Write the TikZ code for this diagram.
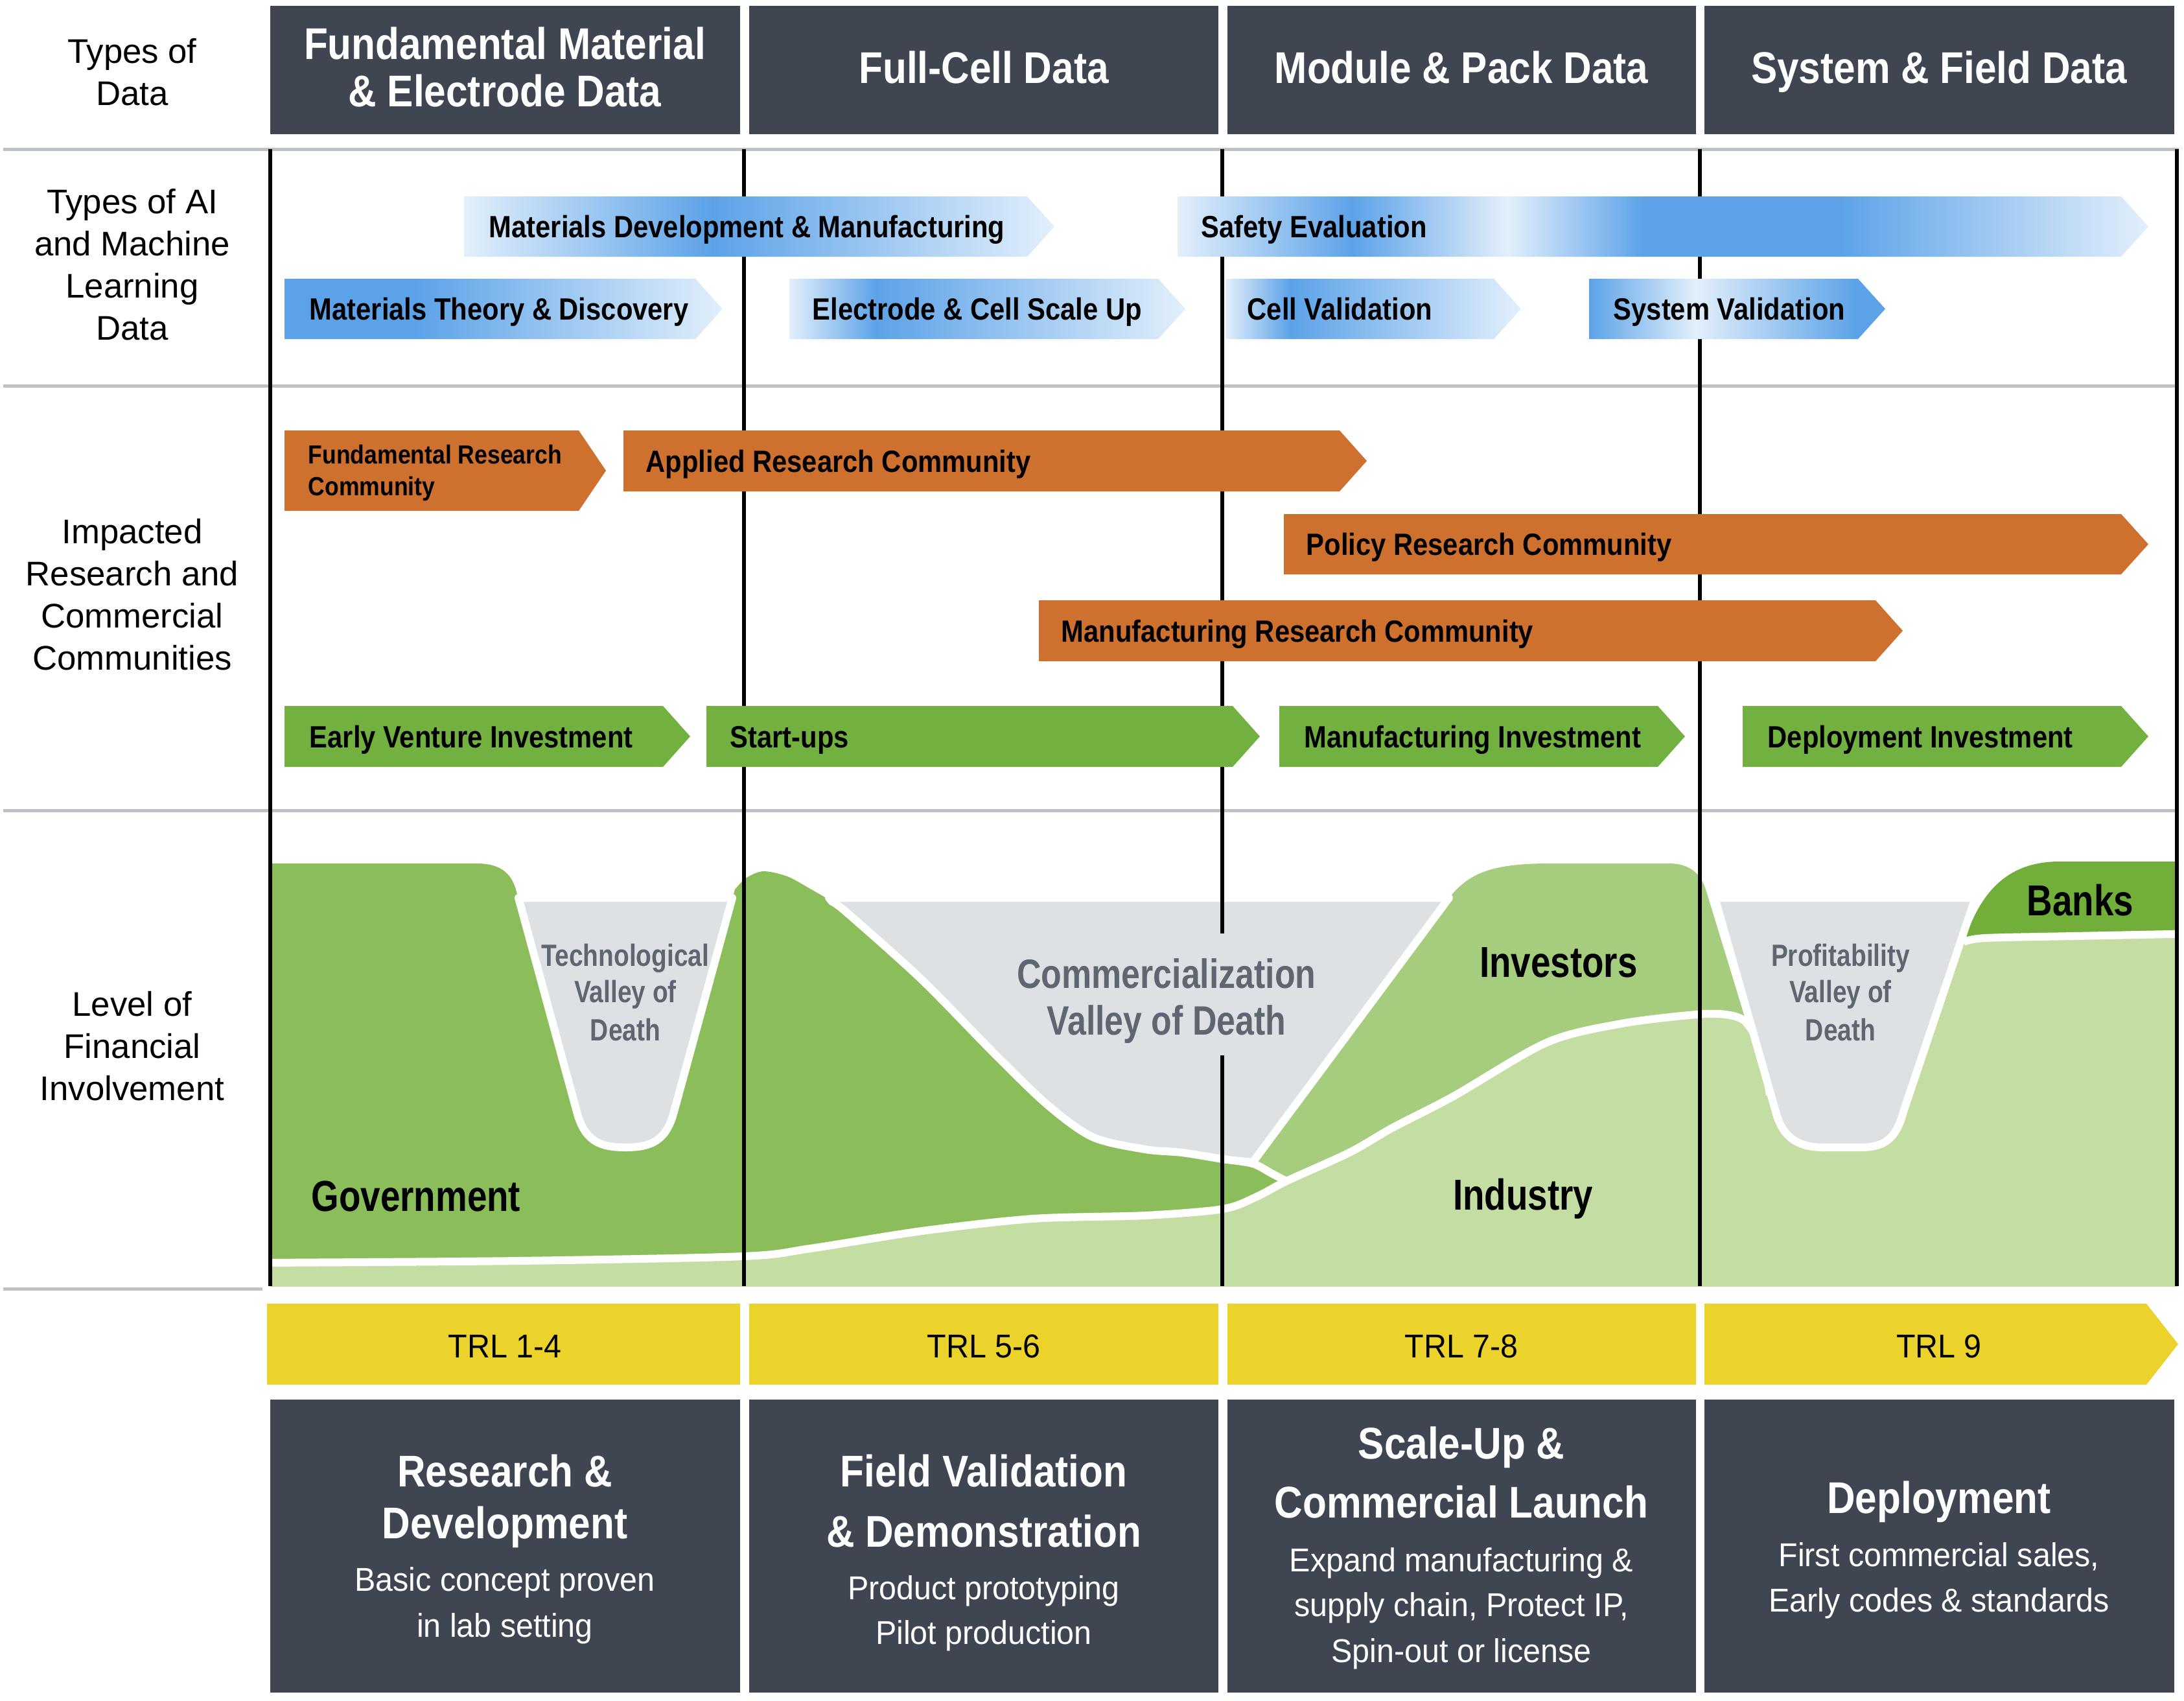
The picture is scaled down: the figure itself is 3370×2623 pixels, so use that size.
\documentclass[tikz,border=0pt]{standalone}
\usepackage{fontspec}
\setmainfont{Liberation Sans}
\newfontfamily\condfont[FakeStretch=0.88]{Liberation Sans}
\newfontfamily\narrowfont[FakeStretch=0.82]{Liberation Sans}
\newfontfamily\lightfont[FakeStretch=0.95]{Liberation Sans}

\definecolor{slate}{RGB}{63,70,81}
\definecolor{rulegray}{RGB}{188,194,200}
\definecolor{blueA}{RGB}{92,162,232}
\definecolor{blueL}{RGB}{226,239,251}
\definecolor{orng}{RGB}{206,112,46}
\definecolor{arrgreen}{RGB}{114,177,63}
\definecolor{trlyellow}{RGB}{236,211,44}
\definecolor{govgreen}{RGB}{139,189,90}
\definecolor{invgreen}{RGB}{166,204,126}
\definecolor{indgreen}{RGB}{196,221,163}
\definecolor{bankgreen}{RGB}{113,175,58}
\definecolor{valgray}{RGB}{222,225,228}
\definecolor{valtext}{RGB}{96,102,113}

% blue fades, one per arrow
\pgfdeclarehorizontalshading{shTheory}{100bp}{color(0bp)=(blueA); color(25bp)=(blueA); color(40bp)=(blueA); color(75bp)=(blueL); color(100bp)=(blueL)}
\pgfdeclarehorizontalshading{shMatDev}{100bp}{color(0bp)=(blueL); color(25bp)=(blueL); color(46bp)=(blueA); color(75bp)=(blueL); color(100bp)=(blueL)}
\pgfdeclarehorizontalshading{shScale}{100bp}{color(0bp)=(blueL); color(25bp)=(blueL); color(36bp)=(blueA); color(75bp)=(blueL); color(100bp)=(blueL)}
\pgfdeclarehorizontalshading{shSystem}{100bp}{color(0bp)=(blueA); color(25bp)=(blueA); color(43bp)=(blueL); color(70bp)=(blueA); color(100bp)=(blueA)}
\pgfdeclarehorizontalshading{shSafety}{100bp}{color(0bp)=(blueL); color(25bp)=(blueL); color(34bp)=(blueA); color(42bp)=(blueL); color(49bp)=(blueA); color(59bp)=(blueA); color(75bp)=(blueL); color(100bp)=(blueL)}

% chevron: options, left x, tip x, top y, bottom y
\newcommand{\chev}[5]{\path[#1] (#2,#4) -- ({#3-42},#4) -- (#3,{(#4+#5)/2}) -- ({#3-42},#5) -- (#2,#5) -- cycle;}

\begin{document}
\begin{tikzpicture}[x=0.1mm, y=-0.1mm,
  hdrtxt/.style={font=\condfont\bfseries\fontsize{19.5}{20.8}\selectfont, text=white, align=center, inner sep=0pt},
  sidetxt/.style={font=\fontsize{15}{18.5}\selectfont, align=center, inner sep=0pt},
  arrtxt/.style={font=\condfont\bfseries\fontsize{13.5}{16}\selectfont, anchor=base west, inner sep=0pt},
  ttltxt/.style={font=\condfont\bfseries\fontsize{19.5}{22}\selectfont, text=white, anchor=base, inner sep=0pt},
  subtxt/.style={font=\lightfont\fontsize{14.5}{18}\selectfont, text=white, anchor=base, inner sep=0pt},
  trltxt/.style={font=\lightfont\fontsize{14.5}{18}\selectfont, anchor=base, inner sep=0pt},
  areatxt/.style={font=\narrowfont\bfseries\fontsize{19}{22}\selectfont, anchor=base, inner sep=0pt},
  valtxt/.style={font=\narrowfont\bfseries\fontsize{13.5}{16}\selectfont, text=valtext, anchor=base, inner sep=0pt},
  valleyfill/.style={fill=valgray, draw=white, line width=1.2mm, line join=round},
  seam/.style={draw=white, line width=1.2mm},
  ruleline/.style={draw=rulegray, line width=0.5mm},
  colline/.style={draw=black, line width=0.55mm}]
\useasboundingbox (0,0) rectangle (3370,2623);

% row rules
\draw[ruleline] (5,230) -- (3362,230);
\draw[ruleline] (5,595) -- (3362,595);
\draw[ruleline] (5,1250) -- (3362,1250);
\draw[ruleline] (5,1988) -- (405,1988);

% header boxes
\fill[slate] (417,9) rectangle (1142,207);
\fill[slate] (1156,9) rectangle (1880,207);
\fill[slate] (1894,9) rectangle (2617,207);
\fill[slate] (2630,9) rectangle (3355,207);
\node[hdrtxt] (hd1) at (779,103.5) {Fundamental Material\\\& Electrode Data};
\node[hdrtxt, anchor=base] (hd2) at (1518,128) {Full-Cell Data};
\node[hdrtxt, anchor=base] (hd3) at (2255,128) {Module \& Pack Data};
\node[hdrtxt, anchor=base] (hd4) at (2992,128) {System \& Field Data};

% side labels
\node[sidetxt] (sd1) at (204,111.5) {Types of\\Data};
\node[sidetxt] (sd2) at (204,408.5) {Types of AI\\and Machine\\Learning\\Data};
\node[sidetxt] (sd3) at (204,917.5) {Impacted\\Research and\\Commercial\\Communities};
\node[sidetxt] (sd4) at (204,1614) {Level of\\Financial\\Involvement};

% financial involvement
\begin{scope}
\clip (417,1200) rectangle (3359,1984);
\fill[invgreen] (1933,1792) -- (2232,1391) .. controls (2262,1348) and (2300,1332) .. (2390,1332)
  -- (2575,1332) .. controls (2608,1332) and (2624,1348) .. (2632,1372) -- (2720,1660) -- (1990,1860) -- cycle;
\fill[govgreen] (380,1332) -- (735,1332) .. controls (770,1332) and (788,1345) .. (796,1372)
  -- (830,1500) -- (1100,1500) -- (1134,1372)
  -- plot[smooth] coordinates {(1134,1372) (1152,1354) (1178,1344) (1215,1352) (1250,1371) (1284,1391)
     (1307,1408) (1422,1511) (1537,1628) (1617,1705) (1686,1754) (1767,1773) (1824,1778) (1887,1788)
     (1933,1795) (1962,1810) (1995,1828)}
  -- (1995,1960) -- (380,1960) -- cycle;
\fill[bankgreen] (3028,1460) .. controls (3050,1392) and (3085,1329) .. (3178,1329) -- (3400,1329)
  -- (3400,1500) -- (3028,1500) -- cycle;
\fill[indgreen] (380,2050) -- (380,1949)
  -- plot[smooth] coordinates {(417,1948) (800,1945) (1146,1938) (1250,1926) (1422,1899) (1594,1880)
     (1767,1875) (1887,1865) (1939,1846) (1985,1822) (2082,1778) (2150,1739) (2243,1691) (2387,1608)
     (2502,1579) (2617,1565) (2663,1565) (2691,1574) (2710,1600)}
  -- (2725,1690) -- (2900,1690) -- (3005,1455)
  -- plot[smooth] coordinates {(3040,1452) (3200,1446) (3400,1442)}
  -- (3400,2050) -- cycle;
\draw[seam] plot[smooth] coordinates {(380,1949) (417,1948) (800,1945) (1146,1938) (1250,1926) (1422,1899)
     (1594,1880) (1767,1875) (1887,1865) (1939,1846) (1985,1822) (2082,1778) (2150,1739) (2243,1691)
     (2387,1608) (2502,1579) (2617,1565) (2663,1565) (2691,1574) (2710,1600)};
\draw[seam] plot[smooth] coordinates {(1887,1788) (1933,1795) (1962,1810) (1985,1822)};
\draw[seam] plot[smooth] coordinates {(3030,1453) (3063,1447) (3200,1444) (3400,1440)};
% valleys of death
\path[valleyfill] (800,1385) -- (890,1715) .. controls (902,1760) and (925,1770) .. (965,1770)
  .. controls (1005,1770) and (1028,1760) .. (1040,1715) -- (1130,1385) -- cycle;
\path[valleyfill] (1279,1385) -- plot[smooth] coordinates {(1284,1391) (1307,1408) (1422,1511)
     (1537,1628) (1617,1705) (1686,1754) (1767,1773) (1824,1778) (1887,1788) (1933,1793)}
  -- (2236,1385) -- cycle;
\path[valleyfill] (2646,1385) -- (2740,1715) .. controls (2752,1760) and (2780,1770) .. (2815,1770)
  -- (2870,1770) .. controls (2905,1770) and (2925,1760) .. (2937,1715) -- (3048,1385) -- cycle;
\end{scope}

% column lines
\draw[colline] (417,230) -- (417,1984);
\draw[colline] (1148,230) -- (1148,1984);
\draw[colline] (1886,230) -- (1886,1440);
\draw[colline] (1886,1628) -- (1886,1984);
\draw[colline] (2623,230) -- (2623,1984);
\draw[colline] (3359,230) -- (3359,1984);

\node[areatxt, anchor=base west] (gov) at (480,1868) {Government};
\node[areatxt] (inv) at (2405,1507) {Investors};
\node[areatxt] (ind) at (2350,1866) {Industry};
\node[areatxt] (bank) at (3210,1412) {Banks};
\node[valtxt] (tv1) at (965,1490) {Technological};
\node[valtxt] (tv2) at (965,1546) {Valley of};
\node[valtxt] (tv3) at (965,1605) {Death};
\node[valtxt, font=\narrowfont\bfseries\fontsize{18}{21}\selectfont] (cv1) at (1800,1524) {Commercialization};
\node[valtxt, font=\narrowfont\bfseries\fontsize{18}{21}\selectfont] (cv2) at (1800,1596) {Valley of Death};
\node[valtxt] (pv1) at (2840,1490) {Profitability};
\node[valtxt] (pv2) at (2840,1546) {Valley of};
\node[valtxt] (pv3) at (2840,1605) {Death};

% AI and machine learning arrows
\chev{shade, shading=shMatDev}{716}{1627}{303}{396}
\chev{shade, shading=shSafety}{1817}{3315}{303}{396}
\chev{shade, shading=shTheory}{439}{1115}{430}{523}
\chev{shade, shading=shScale}{1218}{1829}{430}{523}
\chev{shade, shading=shScale}{1891}{2347}{430}{523}
\chev{shade, shading=shSystem}{2452}{2909}{430}{523}
\node[arrtxt] (matdev) at (754,366) {Materials Development \& Manufacturing};
\node[arrtxt] (safety) at (1853,366) {Safety Evaluation};
\node[arrtxt] (theory) at (477,493) {Materials Theory \& Discovery};
\node[arrtxt] (scaleup) at (1253,493) {Electrode \& Cell Scale Up};
\node[arrtxt] (cellval) at (1924,493) {Cell Validation};
\node[arrtxt] (sysval) at (2489,493) {System Validation};

% communities
\chev{fill=orng}{439}{935}{664}{788}
\chev{fill=orng}{962}{2109}{664}{758}
\chev{fill=orng}{1981}{3315}{793}{886}
\chev{fill=orng}{1603}{2936}{926}{1020}
\node[arrtxt, font=\condfont\bfseries\fontsize{11.5}{14}\selectfont] (fr1) at (475,715.5) {Fundamental Research};
\node[arrtxt, font=\condfont\bfseries\fontsize{11.5}{14}\selectfont] (fr2) at (475,764.5) {Community};
\node[arrtxt] (applied) at (996,728) {Applied Research Community};
\node[arrtxt] (policy) at (2015,856) {Policy Research Community};
\node[arrtxt] (manres) at (1637,990) {Manufacturing Research Community};

% investment
\chev{fill=arrgreen}{439}{1065}{1089}{1183}
\chev{fill=arrgreen}{1090}{1944}{1089}{1183}
\chev{fill=arrgreen}{1974}{2600}{1089}{1183}
\chev{fill=arrgreen}{2689}{3315}{1089}{1183}
\node[arrtxt] (early) at (477,1153) {Early Venture Investment};
\node[arrtxt] (startup) at (1126,1153) {Start-ups};
\node[arrtxt] (maninv) at (2012,1153) {Manufacturing Investment};
\node[arrtxt] (depinv) at (2727,1153) {Deployment Investment};

% TRL bar
\fill[trlyellow] (412,2011) rectangle (1142,2136);
\fill[trlyellow] (1156,2011) rectangle (1880,2136);
\fill[trlyellow] (1894,2011) rectangle (2617,2136);
\fill[trlyellow] (2630,2011) -- (3312,2011) -- (3361,2073.5) -- (3312,2136) -- (2630,2136) -- cycle;
\node[trltxt] (trl1) at (779,2094) {TRL 1-4};
\node[trltxt] (trl2) at (1518,2094) {TRL 5-6};
\node[trltxt] (trl3) at (2255,2094) {TRL 7-8};
\node[trltxt] (trl4) at (2992,2094) {TRL 9};

% stage boxes
\fill[slate] (417,2159) rectangle (1142,2611);
\fill[slate] (1156,2159) rectangle (1880,2611);
\fill[slate] (1894,2159) rectangle (2617,2611);
\fill[slate] (2630,2159) rectangle (3355,2611);
\node[ttltxt] (rd1) at (779,2293) {Research \&};
\node[ttltxt] (rd2) at (779,2373) {Development};
\node[subtxt] (rd3) at (779,2454) {Basic concept proven};
\node[subtxt] (rd4) at (779,2525) {in lab setting};
\node[ttltxt] (fv1) at (1518,2293) {Field Validation};
\node[ttltxt] (fv2) at (1518,2386) {\& Demonstration};
\node[subtxt] (fv3) at (1518,2467) {Product prototyping};
\node[subtxt] (fv4) at (1518,2536) {Pilot production};
\node[ttltxt] (su1) at (2255,2250) {Scale-Up \&};
\node[ttltxt] (su2) at (2255,2341) {Commercial Launch};
\node[subtxt] (su3) at (2255,2424) {Expand manufacturing \&};
\node[subtxt] (su4) at (2255,2493) {supply chain, Protect IP,};
\node[subtxt] (su5) at (2255,2564) {Spin-out or license};
\node[ttltxt] (dp1) at (2992,2334) {Deployment};
\node[subtxt] (dp2) at (2992,2416) {First commercial sales,};
\node[subtxt] (dp3) at (2992,2486) {Early codes \& standards};
\end{tikzpicture}
\end{document}
